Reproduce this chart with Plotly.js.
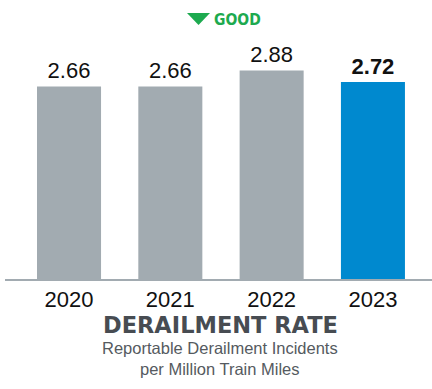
<!DOCTYPE html>
<html><head><meta charset="utf-8">
<script src="https://cdn.plot.ly/plotly-3.0.1.min.js"></script>
<style>html,body{margin:0;padding:0;background:#fff}#c{width:432px;height:389px}</style>
</head><body><div id="c"></div>
<script>
const years = ['2020', '2021', '2022', '2023'];
const rates = [2.66, 2.66, 2.88, 2.72];
const labels = ['2.66', '2.66', '2.88', '<b>2.72</b>'];
const barColors = ['#A2ABB1', '#A2ABB1', '#A2ABB1', '#0089CF'];

const trace = {
  type: 'bar', x: years, y: rates, width: 0.632,
  marker: {color: barColors, line: {width: 0}},
  text: labels, textposition: 'outside', cliponaxis: false,
  textfont: {family: 'Liberation Sans, Arial, sans-serif', size: 22, color: '#111'},
  hoverinfo: 'none'
};
const layout = {
  width: 432, height: 389,
  margin: {l: 5, r: 0, t: 20, b: 110},
  paper_bgcolor: '#fff', plot_bgcolor: '#fff',
  showlegend: false,
  xaxis: {type: 'category', range: [-0.632, 3.583], showgrid: false, zeroline: false,
    showline: true, linecolor: '#A2ABB1', linewidth: 2, ticks: '',
    tickfont: {family: 'Liberation Sans, Arial, sans-serif', size: 22, color: '#111'}},
  yaxis: {range: [0, 3.577], visible: false, fixedrange: true},
  shapes: [{type: 'path', xref: 'paper', yref: 'paper',
    path: 'M 0.4262 1.027 L 0.4801 1.027 L 0.4532 0.9807 Z',
    fillcolor: '#1DAA4F', line: {width: 0}}],
  annotations: [
    {xref: 'paper', yref: 'paper', x: 0.485, y: 1.0, xanchor: 'left', yanchor: 'middle',
     text: '<b>GOOD</b>', showarrow: false,
     font: {family: 'Liberation Sans Narrow, DejaVu Sans Condensed, sans-serif', size: 15.5, color: '#1DAA4F'}},
    {xref: 'paper', yref: 'paper', x: 0.5047, y: -0.1776, xanchor: 'center', yanchor: 'middle',
     text: '<b>DERAILMENT RATE</b>', showarrow: false,
     font: {family: 'DejaVu Sans, sans-serif', size: 22.5, color: '#474C52'}},
    {xref: 'paper', yref: 'paper', x: 0.503, y: -0.2645, xanchor: 'center', yanchor: 'middle',
     text: 'Reportable Derailment Incidents', showarrow: false,
     font: {family: 'Liberation Sans, Arial, sans-serif', size: 16.5, color: '#555A60'}},
    {xref: 'paper', yref: 'paper', x: 0.503, y: -0.3456, xanchor: 'center', yanchor: 'middle',
     text: 'per Million Train Miles', showarrow: false,
     font: {family: 'Liberation Sans, Arial, sans-serif', size: 16.5, color: '#555A60'}}
  ]
};
Plotly.newPlot('c', [trace], layout, {displayModeBar: false, staticPlot: true});
</script></body></html>
